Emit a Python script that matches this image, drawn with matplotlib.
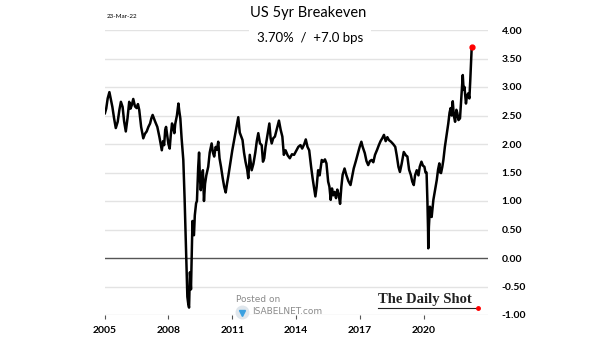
import numpy as np
import matplotlib
matplotlib.use("Agg")
import matplotlib.pyplot as plt
from matplotlib.lines import Line2D

# US 5yr breakeven (year fraction, %)
years = [
    2005.02, 2005.08, 2005.15, 2005.23, 2005.30, 2005.37, 2005.45, 2005.53, 2005.62, 2005.70,
    2005.77, 2005.85, 2005.92, 2006.00, 2006.08, 2006.16, 2006.22, 2006.28, 2006.35, 2006.43,
    2006.51, 2006.57, 2006.63, 2006.72, 2006.82, 2006.90, 2006.98, 2007.06, 2007.14, 2007.20,
    2007.26, 2007.37, 2007.48, 2007.58, 2007.69, 2007.75, 2007.80, 2007.85, 2007.89, 2007.95,
    2008.00, 2008.06, 2008.11, 2008.17, 2008.23, 2008.28, 2008.32, 2008.40, 2008.47, 2008.51,
    2008.56, 2008.62, 2008.70, 2008.76, 2008.80, 2008.83, 2008.89, 2008.93, 2008.97, 2009.01,
    2009.04, 2009.06, 2009.10, 2009.13, 2009.17, 2009.20, 2009.24, 2009.27, 2009.30, 2009.34,
    2009.40, 2009.44, 2009.48, 2009.52, 2009.58, 2009.62, 2009.67, 2009.72, 2009.78, 2009.87,
    2009.94, 2010.03, 2010.09, 2010.15, 2010.22, 2010.28, 2010.34, 2010.40, 2010.47, 2010.55,
    2010.62, 2010.69, 2010.75, 2010.81, 2010.90, 2011.00, 2011.10, 2011.20, 2011.28, 2011.35,
    2011.42, 2011.48, 2011.55, 2011.62, 2011.70, 2011.75, 2011.82, 2011.91, 2011.99, 2012.08,
    2012.15, 2012.22, 2012.30, 2012.38, 2012.44, 2012.50, 2012.56, 2012.65, 2012.74, 2012.80,
    2012.85, 2012.92, 2013.00, 2013.08, 2013.19, 2013.27, 2013.35, 2013.42, 2013.50, 2013.60,
    2013.70, 2013.80, 2013.90, 2014.00, 2014.10, 2014.20, 2014.28, 2014.38, 2014.45, 2014.53,
    2014.61, 2014.70, 2014.77, 2014.85, 2014.90, 2014.96, 2015.03, 2015.10, 2015.20, 2015.28,
    2015.35, 2015.42, 2015.50, 2015.56, 2015.62, 2015.68, 2015.74, 2015.80, 2015.87, 2015.93,
    2016.00, 2016.06, 2016.12, 2016.18, 2016.27, 2016.35, 2016.45, 2016.55, 2016.62, 2016.70,
    2016.80, 2016.90, 2016.98, 2017.06, 2017.12, 2017.22, 2017.30, 2017.38, 2017.46, 2017.54,
    2017.62, 2017.70, 2017.80, 2017.88, 2017.96, 2018.04, 2018.12, 2018.20, 2018.28, 2018.35,
    2018.45, 2018.55, 2018.65, 2018.72, 2018.80, 2018.87, 2018.95, 2019.05, 2019.15, 2019.22,
    2019.30, 2019.38, 2019.45, 2019.52, 2019.58, 2019.66, 2019.74, 2019.80, 2019.88, 2019.95,
    2020.02, 2020.07, 2020.12, 2020.16, 2020.19, 2020.20, 2020.23, 2020.28, 2020.32, 2020.36,
    2020.44, 2020.52, 2020.60, 2020.66, 2020.72, 2020.76, 2020.80, 2020.86, 2020.91, 2020.98,
    2021.06, 2021.14, 2021.20, 2021.25, 2021.30, 2021.35, 2021.40, 2021.46, 2021.52, 2021.56,
    2021.62, 2021.69, 2021.75, 2021.82, 2021.86, 2021.90, 2021.97, 2022.02, 2022.08, 2022.13,
    2022.17, 2022.21, 2022.24,
]
values = [
    2.54, 2.62, 2.80, 2.91, 2.78, 2.65, 2.45, 2.28, 2.39, 2.60,
    2.74, 2.65, 2.40, 2.22, 2.45, 2.74, 2.62, 2.68, 2.79, 2.66,
    2.63, 2.70, 2.60, 2.30, 2.10, 2.18, 2.22, 2.30, 2.36, 2.45,
    2.51, 2.40, 2.30, 2.12, 1.89, 2.05, 1.98, 2.25, 2.30, 2.13,
    2.00, 1.92, 2.15, 2.36, 2.28, 2.19, 2.35, 2.50, 2.71, 2.58,
    2.45, 2.10, 1.72, 1.05, 0.50, 0.02, -0.68, -0.80, -0.87, -0.25,
    -0.40, -0.55, 0.10, 0.65, 0.42, 0.40, 0.75, 0.85, 0.96, 1.00,
    1.60, 1.85, 1.40, 1.19, 1.45, 1.54, 1.00, 1.30, 1.45, 1.60,
    1.85, 2.01, 1.85, 1.78, 1.95, 1.90, 2.04, 1.75, 1.60, 1.40,
    1.25, 1.15, 1.30, 1.43, 1.65, 1.89, 2.10, 2.30, 2.47, 2.20,
    2.13, 2.07, 1.85, 1.69, 1.55, 1.40, 1.81, 1.54, 1.65, 1.85,
    2.05, 2.19, 2.01, 1.98, 1.69, 1.75, 1.95, 2.15, 2.36, 2.10,
    2.01, 2.10, 2.13, 2.25, 2.41, 2.25, 2.13, 1.81, 1.89, 1.80,
    1.75, 1.82, 1.81, 1.88, 1.95, 1.98, 1.92, 2.00, 2.08, 1.95,
    1.89, 1.60, 1.40, 1.20, 1.08, 1.25, 1.54, 1.45, 1.72, 1.69,
    1.73, 1.66, 1.34, 1.25, 1.02, 1.22, 1.10, 1.16, 1.05, 1.20,
    1.10, 0.95, 1.25, 1.46, 1.57, 1.46, 1.35, 1.28, 1.42, 1.57,
    1.70, 1.84, 1.95, 2.04, 1.95, 1.84, 1.70, 1.63, 1.70, 1.72,
    1.68, 1.81, 1.90, 1.98, 2.05, 2.10, 2.16, 2.05, 2.12, 2.07,
    2.04, 2.00, 1.95, 1.80, 1.60, 1.51, 1.65, 1.86, 1.80, 1.78,
    1.55, 1.46, 1.34, 1.28, 1.45, 1.54, 1.45, 1.60, 1.69, 1.62,
    1.60, 1.50, 1.50, 1.00, 0.50, 0.17, 0.55, 0.90, 0.75, 0.72,
    1.02, 1.20, 1.37, 1.55, 1.66, 1.50, 1.49, 1.60, 1.72, 1.95,
    2.15, 2.36, 2.55, 2.63, 2.50, 2.75, 2.50, 2.39, 2.60, 2.55,
    2.42, 2.45, 2.80, 3.21, 2.95, 3.00, 2.71, 2.85, 2.89, 2.80,
    3.10, 3.47, 3.70,
]

year_ticks = [2005, 2008, 2011, 2014, 2017, 2020]
y_ticks = [-1.0, -0.5, 0.0, 0.5, 1.0, 1.5, 2.0, 2.5, 3.0, 3.5, 4.0]

plt.rcParams['font.family'] = ['Lato', 'DejaVu Sans']

fig = plt.figure(figsize=(6.05, 3.41), dpi=100)
ax = fig.add_axes([104.5 / 605, 1 - 315 / 341, 383.4 / 605, 285 / 341])

# grid lines
for v in y_ticks:
    if v == 0:
        ax.axhline(v, color='#555555', lw=1.0, zorder=1)
    else:
        ax.axhline(v, color='#e3e3e3', lw=1.0, zorder=0)

ax.plot(years, values, color='black', lw=1.8, zorder=3)
ax.plot(years[-1], values[-1], 'o', color='red', ms=3.5, zorder=4)

ax.set_xlim(2005, 2023)
ax.set_ylim(-1.0, 4.0)
ax.set_xticks(year_ticks)
ax.set_xticklabels([str(y) for y in year_ticks], fontweight='bold', fontsize=7.5)
ax.set_yticks(y_ticks)
ax.set_yticklabels(['%.2f' % v for v in y_ticks], fontweight='bold', fontsize=7.5)
ax.yaxis.tick_right()
ax.tick_params(axis='y', length=0, pad=10)
ax.tick_params(axis='x', length=3, color='#555555', pad=5)
for s in ax.spines.values():
    s.set_visible(False)

# titles
fig.text(308 / 605, 1 - 13 / 341, 'US 5yr Breakeven', ha='center', va='center', fontsize=10.5)
fig.text(310 / 605, 1 - 38 / 341, '3.70%  /  +7.0 bps', ha='center', va='center', fontsize=9.5,
         bbox=dict(facecolor='white', edgecolor='none', pad=6))
fig.text(107 / 605, 1 - 16 / 341, '23-Mar-22', ha='left', va='center', fontsize=4.5)

# watermark and logo
fig.text(236 / 605, 1 - 299 / 341, 'Posted on', ha='left', va='center', fontsize=6.5, color='#8a8a8a',
         family='DejaVu Sans')
fig.text(252 / 605, 1 - 311 / 341, 'ISABELNET.com', ha='left', va='center', fontsize=6.5, color='#8a8a8a',
         family='DejaVu Sans')
fig.add_artist(Line2D([242 / 605], [1 - 312 / 341], marker='o', ms=9, color='#dfe6ec',
                      transform=fig.transFigure))
fig.add_artist(Line2D([242 / 605], [1 - 313 / 341], marker='v', ms=5, color='#3aa0e0',
                      transform=fig.transFigure))
fig.text(378 / 605, 1 - 300 / 341, 'The Daily Shot', ha='left', va='center', fontsize=10.5,
         family='Liberation Serif', fontweight='bold', color='#222222')
fig.add_artist(Line2D([378 / 605, 476 / 605], [1 - 308 / 341, 1 - 308 / 341], color='#222222', lw=0.8,
                      transform=fig.transFigure))
fig.add_artist(Line2D([478 / 605], [1 - 308 / 341], marker='o', ms=2.5, color='red',
                      transform=fig.transFigure))

fig.savefig('out.png', dpi=100)
